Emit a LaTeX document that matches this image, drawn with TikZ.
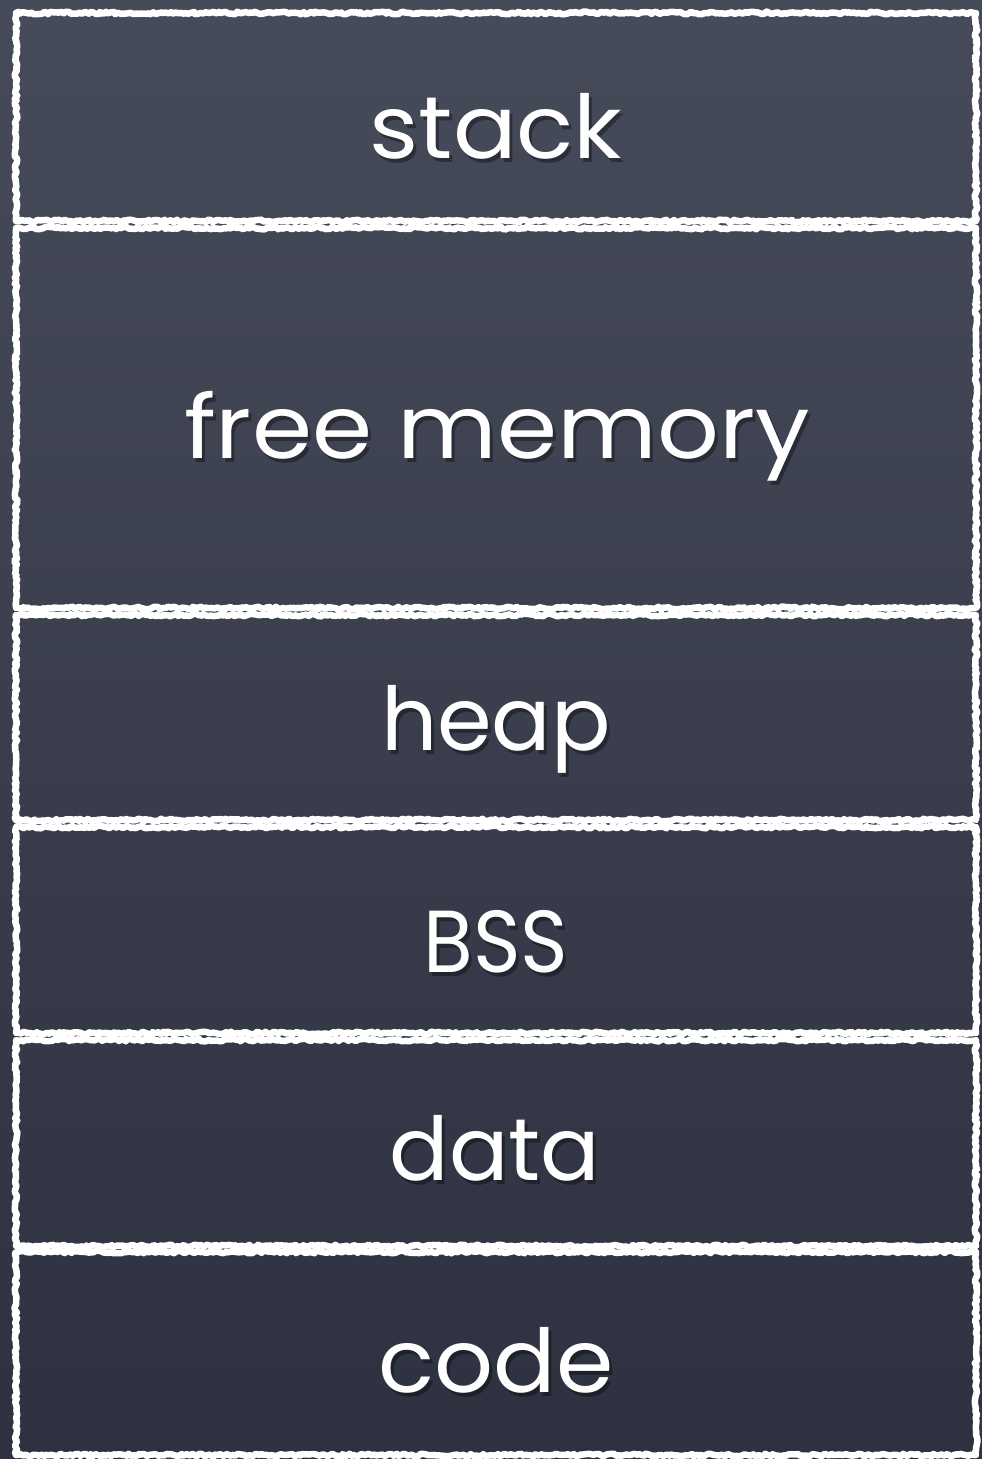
\documentclass[tikz,border=0pt]{standalone}
\usepackage{fontspec}
\setmainfont{Poppins}
\usetikzlibrary{decorations.pathmorphing}
\definecolor{boardtop}{HTML}{464B5A}
\definecolor{boardbot}{HTML}{2E313F}
\tikzset{
  chalkline/.style={draw=white, line width=6.5pt, line join=round,
    decorate, decoration={random steps, segment length=2.5pt, amplitude=1.3pt}},
  chalktext/.style={text=white, font=\fontsize{88}{96}\selectfont, inner sep=0pt, anchor=base},
  chalkshadow/.style={text=black, opacity=0.35, font=\fontsize{88}{96}\selectfont, inner sep=0pt, anchor=base},
}
% a label with its drop shadow: name, x-scale, x, y, text
\newcommand{\chalklabel}[5]{%
  \node[chalkshadow, xscale=#2] (#1-shadow) at (#3+3,#4+4) {#5};
  \node[chalktext,   xscale=#2] (#1)        at (#3,#4)     {#5};
}
\begin{document}
\begin{tikzpicture}[x=1pt,y=-1pt]
  % the board
  \shade[top color=boardtop, bottom color=boardbot] (0,0) rectangle (982,1459);
  \useasboundingbox (0,0) rectangle (982,1459);
  \pgfmathsetseed{7}
  % memory segments, top to bottom
  \draw[chalkline] (16,13)   rectangle (976,221);
  \draw[chalkline] (16,228)  rectangle (976,608);
  \draw[chalkline] (16,615)  rectangle (976,820);
  \draw[chalkline] (16,827)  rectangle (976,1033);
  \draw[chalkline] (16,1040) rectangle (976,1246);
  \draw[chalkline] (16,1252) rectangle (976,1455);
  % segment labels
  \chalklabel{stack}{1.07}{496}{158}{stack}
  \chalklabel{free}{1.10}{497}{458}{free memory}
  \chalklabel{heap}{1.00}{496}{750}{heap}
  \chalklabel{bss}{0.92}{496}{972}{BSS}
  \chalklabel{data}{1.00}{495}{1180}{data}
  \chalklabel{code}{1.05}{496}{1392}{code}
\end{tikzpicture}
\end{document}
